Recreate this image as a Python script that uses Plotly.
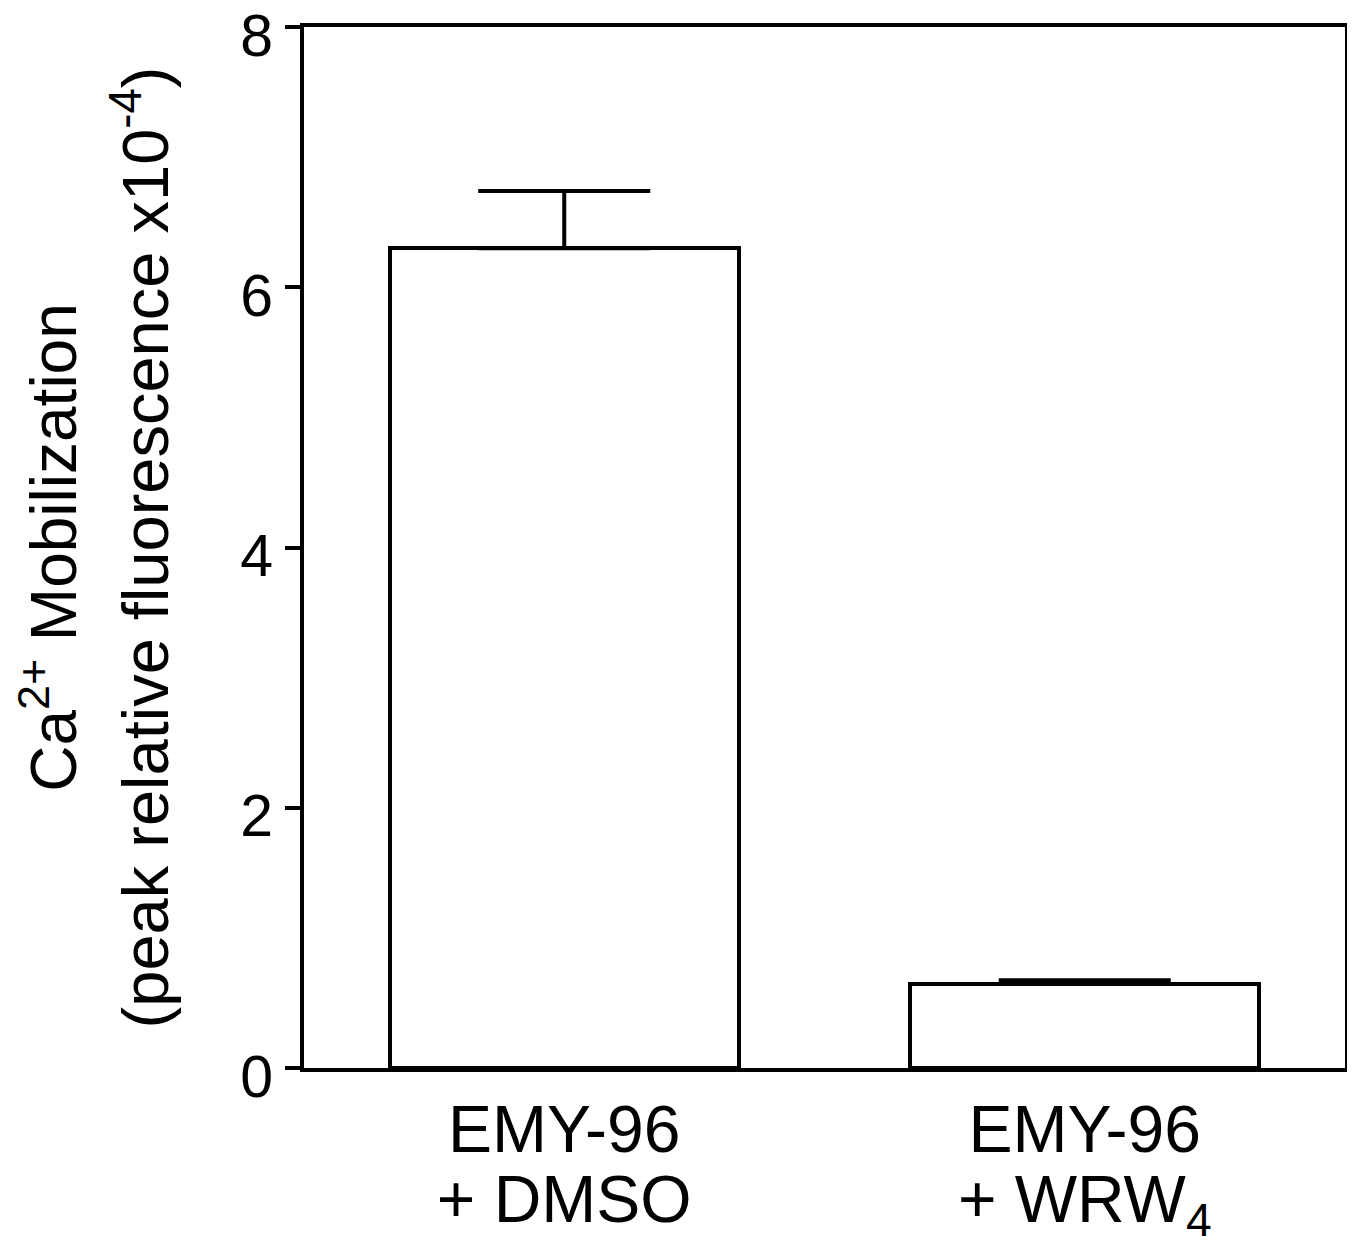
import plotly.graph_objects as go

categories = ["EMY-96<br>+ DMSO", "EMY-96<br>+ WRW<sub>4</sub>"]
values = [6.30, 0.645]
errors = [0.44, 0.03]
y_ticks = [0, 2, 4, 6, 8]

FONT = "Liberation Sans, Arial, sans-serif"


def big(text, px):
    return f'<span style="font-size:{px}px">{text}</span>'


fig = go.Figure()
fig.add_trace(go.Bar(
    x=[0, 1],
    y=values,
    width=0.671,
    marker=dict(color="white", line=dict(color="black", width=4)),
    error_y=dict(type="data", array=errors, symmetric=False, arrayminus=[0, 0],
                 color="black", thickness=4, width=86, visible=True),
))

fig.update_layout(
    width=1347, height=1237,
    margin=dict(l=296, r=10, t=19, b=177),
    plot_bgcolor="white", paper_bgcolor="white",
    showlegend=False,
    font=dict(family=FONT, color="black", size=58),
    bargap=0,
)
fig.update_xaxes(
    range=[-0.5, 1.5],
    tickmode="array", tickvals=[0, 1],
    ticktext=["<br>".join(big(p, 66) for p in c.split("<br>")) for c in categories],
    tickfont=dict(size=54, family=FONT),
    ticklabelstandoff=15,
    showline=True, linecolor="black", linewidth=4, mirror=True,
    ticks="", showgrid=False, zeroline=False, automargin=False,
)
fig.update_yaxes(
    range=[0, 8],
    tickmode="array", tickvals=y_ticks, ticktext=[str(t) for t in y_ticks],
    tickfont=dict(size=59, family=FONT),
    ticklabeloverflow="allow", ticklabelshift=8,
    ticks="outside", ticklen=15, tickwidth=4, tickcolor="black",
    showline=True, linecolor="black", linewidth=4, mirror=True,
    showgrid=False, zeroline=False, automargin=False,
    title=dict(text=big("Ca<sup>2+</sup> Mobilization", 64) + "<br>"
               + big("(peak relative fluorescence x10<sup>-4</sup>)", 65),
               font=dict(size=71, family=FONT), standoff=60),
)

fig.write_html("out.html")
